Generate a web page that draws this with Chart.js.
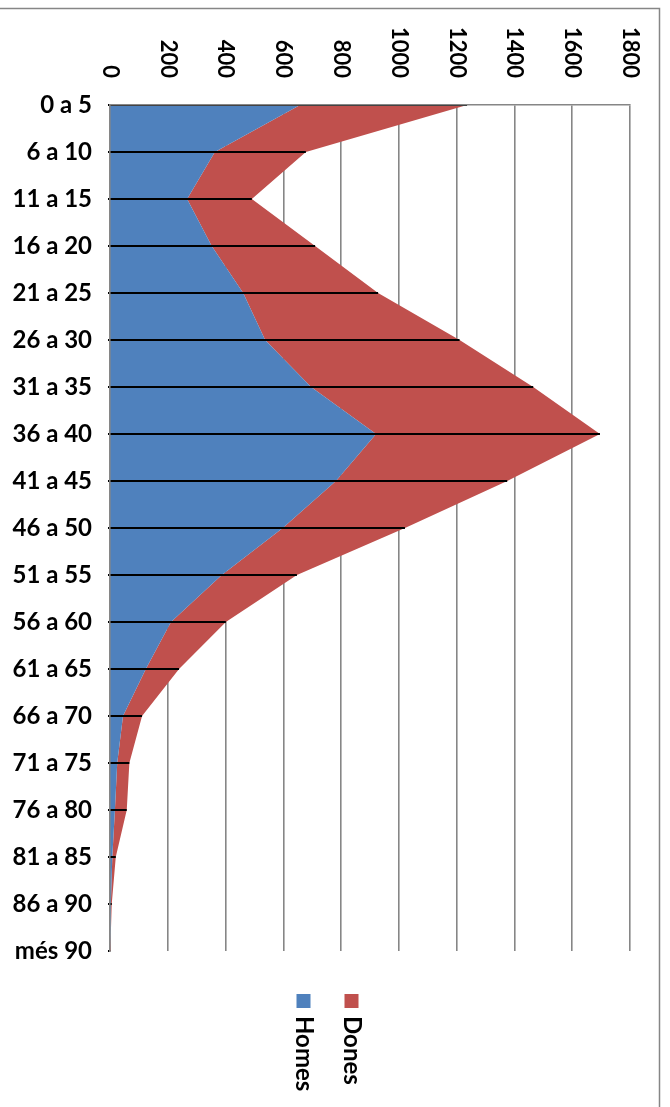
<!DOCTYPE html>
<html>
<head>
<meta charset="utf-8">
<script src="https://cdn.jsdelivr.net/npm/chart.js@4.4.0/dist/chart.umd.min.js"></script>
<style>
  html, body { margin: 0; padding: 0; background: #fff; }
  #wrap { width: 670px; height: 1107px; }
</style>
</head>
<body>
<div id="wrap"><canvas id="chart" width="670" height="1107"></canvas></div>
<script>
const edats = ['0 a 5', '6 a 10', '11 a 15', '16 a 20', '21 a 25', '26 a 30', '31 a 35',
  '36 a 40', '41 a 45', '46 a 50', '51 a 55', '56 a 60', '61 a 65', '66 a 70',
  '71 a 75', '76 a 80', '81 a 85', '86 a 90', 'més 90'];
const homes = [658, 363, 267, 352, 461, 537, 696, 921, 782, 598, 387, 211, 124, 45, 25, 17, 8, 3, 0];
const dones = [578, 315, 224, 358, 467, 673, 769, 775, 593, 423, 260, 190, 115, 66, 42, 41, 12, 3, 1];
const valorTicks = [0, 200, 400, 600, 800, 1000, 1200, 1400, 1600, 1800];

const blau = '#4F81BD';
const vermell = '#C0504D';
const gris = '#868686';

// etiquetes de l'eix de valors, girades 90 graus
const etiquetesValor = {
  id: 'etiquetesValor',
  afterDraw(chart) {
    const ctx = chart.ctx;
    const x = chart.scales.x;
    ctx.save();
    ctx.font = 'bold 22px Lato';
    ctx.fillStyle = '#000';
    ctx.textAlign = 'right';
    ctx.textBaseline = 'middle';
    valorTicks.forEach((v) => {
      ctx.save();
      ctx.translate(x.getPixelForValue(v), chart.chartArea.top - 27);
      ctx.rotate(Math.PI / 2);
      ctx.fillText(String(v), 0, 0);
      ctx.restore();
    });
    ctx.restore();
  }
};

// linies de projeccio fins al total
const liniesTotal = {
  id: 'liniesTotal',
  afterDatasetsDraw(chart) {
    const ctx = chart.ctx;
    const x = chart.scales.x;
    const y = chart.scales.y;
    ctx.save();
    ctx.strokeStyle = '#000';
    ctx.lineWidth = 2;
    ctx.beginPath();
    edats.forEach((e, i) => {
      const py = y.getPixelForValue(i);
      ctx.moveTo(x.getPixelForValue(0) - 2, py);
      ctx.lineTo(x.getPixelForValue(homes[i] + dones[i]), py);
    });
    ctx.stroke();
    ctx.restore();
  }
};

// llegenda girada i marc exterior
const llegenda = {
  id: 'llegenda',
  afterDraw(chart) {
    const ctx = chart.ctx;
    ctx.save();
    ctx.font = 'bold 24px Lato';
    ctx.textAlign = 'left';
    ctx.textBaseline = 'middle';
    chart.data.datasets.forEach((ds, i) => {
      const cx = 303.5 + i * 48;
      ctx.fillStyle = ds.backgroundColor;
      ctx.fillRect(cx - 7, 994, 14, 14);
      ctx.save();
      ctx.translate(cx, 1016);
      ctx.rotate(Math.PI / 2);
      ctx.fillStyle = '#000';
      ctx.fillText(ds.label, 0, 0);
      ctx.restore();
    });

    ctx.strokeStyle = gris;
    ctx.lineWidth = 1.5;
    ctx.beginPath();
    ctx.moveTo(0, 8.5);
    ctx.lineTo(659.5, 8.5);
    ctx.lineTo(659.5, chart.height);
    ctx.stroke();
    ctx.restore();
  }
};

new Chart(document.getElementById('chart'), {
  type: 'line',
  data: {
    labels: edats,
    datasets: [
      {
        label: 'Homes',
        data: homes,
        backgroundColor: blau,
        borderColor: 'rgba(0,0,0,0)',
        borderWidth: 0,
        pointRadius: 0,
        fill: 'origin',
      },
      {
        label: 'Dones',
        data: dones,
        backgroundColor: vermell,
        borderColor: 'rgba(0,0,0,0)',
        borderWidth: 0,
        pointRadius: 0,
        fill: '-1',
      },
    ],
  },
  options: {
    indexAxis: 'y',
    responsive: false,
    animation: false,
    layout: { padding: { top: 105, bottom: 156, right: 40, left: 0 } },
    plugins: {
      legend: { display: false },
      tooltip: { enabled: false },
    },
    elements: { line: { tension: 0 } },
    scales: {
      x: {
        position: 'top',
        stacked: true,
        min: 0,
        max: 1800,
        ticks: { display: false, stepSize: 200 },
        grid: { color: gris, lineWidth: 1.6, drawTicks: false },
        border: { color: gris, width: 1.6, z: 1 },
      },
      y: {
        ticks: {
          color: '#000',
          font: { family: 'Lato', weight: 'bold', size: 24 },
          padding: 18,
          autoSkip: false,
        },
        grid: { display: false, drawTicks: false },
        border: { color: gris, width: 1.6, z: 1 },
        afterFit: (scale) => { scale.width = 110; },
      },
    },
  },
  plugins: [liniesTotal, etiquetesValor, llegenda],
});
</script>
</body>
</html>
